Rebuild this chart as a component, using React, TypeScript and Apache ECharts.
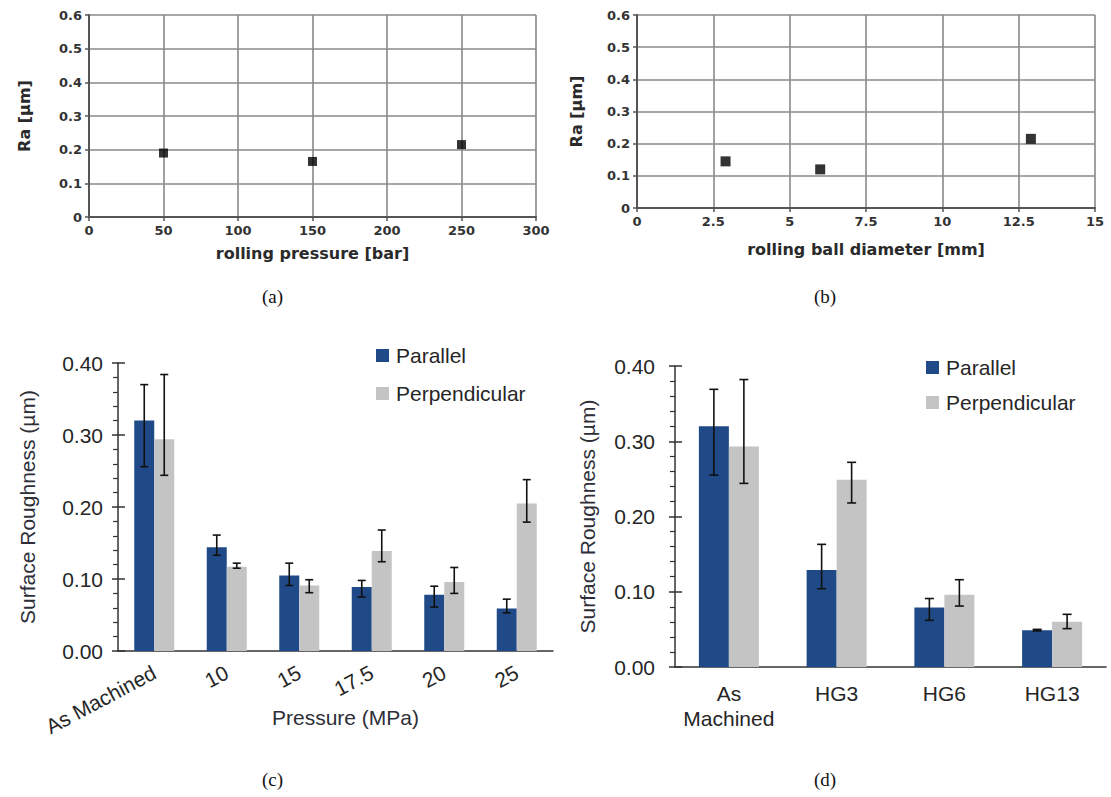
import React, { useEffect, useRef } from "react";
import * as echarts from "echarts";

// ---- panel (a): rolling pressure ----
const aPressure = [50, 150, 250];
const aRa = [0.19, 0.165, 0.215];
// ---- panel (b): rolling ball diameter ----
const bDiameter = [2.9, 6, 12.9];
const bRa = [0.145, 0.12, 0.215];
// ---- panel (c): pressure (MPa) ----
const cCategories = ["As Machined", "10", "15", "17.5", "20", "25"];
const cParallel = [0.32, 0.144, 0.105, 0.089, 0.078, 0.059];
const cParallelLow = [0.256, 0.133, 0.091, 0.075, 0.061, 0.053];
const cParallelHigh = [0.37, 0.161, 0.122, 0.098, 0.09, 0.072];
const cPerp = [0.294, 0.117, 0.091, 0.139, 0.096, 0.205];
const cPerpLow = [0.244, 0.115, 0.081, 0.124, 0.08, 0.179];
const cPerpHigh = [0.384, 0.122, 0.099, 0.168, 0.116, 0.238];
// ---- panel (d): ball size ----
const dCategories = ["As\nMachined", "HG3", "HG6", "HG13"];
const dParallel = [0.32, 0.129, 0.079, 0.049];
const dParallelLow = [0.255, 0.104, 0.062, 0.048];
const dParallelHigh = [0.369, 0.163, 0.091, 0.05];
const dPerp = [0.293, 0.249, 0.096, 0.06];
const dPerpLow = [0.244, 0.218, 0.081, 0.051];
const dPerpHigh = [0.382, 0.272, 0.116, 0.07];

const BLUE = "#1f4a87";
const GRAY = "#c4c4c4";
const SANS = "'Liberation Sans', Arial, Helvetica, sans-serif";
const BOLD_FONT = "'DejaVu Sans', sans-serif";

function errorSeries(xi: number, yi: number, low: number[], high: number[], offset: number, cap: number) {
  return {
    type: "custom",
    xAxisIndex: xi,
    yAxisIndex: yi,
    z: 10,
    silent: true,
    encode: { x: 0, y: [1, 2] },
    data: low.map((l, i) => [i, l, high[i]]),
    renderItem: (params: any, api: any) => {
      const idx = api.value(0);
      const lo = api.coord([idx, api.value(1)]);
      const hi = api.coord([idx, api.value(2)]);
      const x = lo[0] + offset;
      const st = { stroke: "#111", lineWidth: 1.6 };
      return {
        type: "group",
        children: [
          { type: "line", shape: { x1: x, y1: lo[1], x2: x, y2: hi[1] }, style: st },
          { type: "line", shape: { x1: x - cap, y1: lo[1], x2: x + cap, y2: lo[1] }, style: st },
          { type: "line", shape: { x1: x - cap, y1: hi[1], x2: x + cap, y2: hi[1] }, style: st },
        ],
      };
    },
  };
}

const smallAxisLabel = { fontFamily: BOLD_FONT, fontWeight: "bold", fontSize: 13, color: "#333" };
const smallAxisName = { fontFamily: BOLD_FONT, fontWeight: "bold", fontSize: 16, color: "#2a2a2a" };
const gridLine = { show: true, lineStyle: { color: "#888", width: 1.6 } };
const darkLine = { lineStyle: { color: "#555", width: 2 } };

function scatterX(gi: number, max: number, interval: number, name: string, gap: number) {
  return {
    type: "value",
    gridIndex: gi,
    min: 0,
    max,
    interval,
    name,
    nameLocation: "middle",
    nameGap: gap,
    nameMoveOverlap: false,
    nameTextStyle: smallAxisName,
    axisLine: { show: true, onZero: false, ...darkLine },
    axisTick: { show: true, length: 4, lineStyle: { color: "#555", width: 1.5 } },
    axisLabel: { ...smallAxisLabel, margin: 7 },
    splitLine: gridLine,
  };
}
function scatterY(gi: number, gap: number) {
  return {
    type: "value",
    gridIndex: gi,
    min: 0,
    max: 0.6,
    interval: 0.1,
    name: "Ra [µm]",
    nameLocation: "middle",
    nameGap: gap,
    nameMoveOverlap: false,
    nameTextStyle: smallAxisName,
    axisLine: { show: true, ...darkLine },
    axisTick: { show: true, length: 4, lineStyle: { color: "#555", width: 1.5 } },
    axisLabel: { ...smallAxisLabel, margin: 7 },
    splitLine: gridLine,
  };
}

const bigLabel = { fontFamily: SANS, fontSize: 21, color: "#262626" };
const bigName = { fontFamily: SANS, fontSize: 21, color: "#2e2e38" };

function barY(gi: number, gap: number, labelMargin: number) {
  return {
    type: "value",
    gridIndex: gi,
    min: 0,
    max: 0.4,
    interval: 0.1,
    name: "Surface Roughness (µm)",
    nameLocation: "middle",
    nameGap: gap,
    nameMoveOverlap: false,
    nameTextStyle: bigName,
    axisLine: { show: true, lineStyle: { color: "#333", width: 1.5 } },
    axisTick: { show: true, length: 6, lineStyle: { color: "#333", width: 1.5 } },
    minorTick: { show: true, splitNumber: 5, length: 5, lineStyle: { color: "#333", width: 1.2 } },
    axisLabel: { ...bigLabel, margin: labelMargin, formatter: (v: number) => v.toFixed(2) },
    splitLine: { show: false },
  };
}
function barYInner(gi: number) {
  return {
    type: "value",
    gridIndex: gi,
    position: "left",
    offset: 0,
    min: 0,
    max: 0.4,
    interval: 0.1,
    axisLine: { show: false },
    axisTick: { show: true, inside: true, length: 7, lineStyle: { color: "#333", width: 1.5 } },
    axisLabel: { show: false },
    splitLine: { show: false },
  };
}

export default function App() {
  const ref = useRef<HTMLDivElement>(null);
  useEffect(() => {
    if (!ref.current) return;
    const chart = echarts.init(ref.current, undefined, { renderer: "svg" });
    const option: any = {
      animation: false,
      backgroundColor: "#ffffff",
      grid: [
        { left: 89, top: 15, width: 447, height: 202 },
        { left: 637, top: 15, width: 458, height: 193 },
        { left: 118, top: 363, width: 435, height: 288 },
        { left: 675, top: 366, width: 431, height: 301 },
      ],
      legend: [
        {
          left: 371,
          top: 340,
          orient: "vertical",
          icon: "rect",
          itemWidth: 13,
          itemHeight: 13,
          itemGap: 17,
          data: ["Parallel", "Perpendicular"],
          textStyle: { ...bigLabel, padding: [0, 0, 0, 2] },
          selectedMode: false,
        },
        {
          left: 921,
          top: 352,
          orient: "vertical",
          icon: "rect",
          itemWidth: 13,
          itemHeight: 13,
          itemGap: 14,
          data: ["Parallel", "Perpendicular"],
          textStyle: { ...bigLabel, padding: [0, 0, 0, 2] },
          selectedMode: false,
        },
      ],
      xAxis: [
        scatterX(0, 300, 50, "rolling pressure [bar]", 28),
        scatterX(1, 15, 2.5, "rolling ball diameter [mm]", 33),
        {
          type: "category",
          gridIndex: 2,
          data: cCategories,
          name: "Pressure (MPa)",
          nameLocation: "middle",
          nameGap: 56,
          nameMoveOverlap: false,
          nameTextStyle: { ...bigName, padding: [0, 0, 0, 20] },
          axisLine: { show: true, lineStyle: { color: "#333", width: 1.5 } },
          axisTick: { show: false },
          axisLabel: { ...bigLabel, rotate: 28, margin: 20, interval: 0 },
        },
        {
          type: "category",
          gridIndex: 3,
          data: dCategories,
          axisLine: { show: true, lineStyle: { color: "#333", width: 1.5 } },
          axisTick: { show: false },
          axisLabel: { ...bigLabel, margin: 14, interval: 0, lineHeight: 25 },
        },
      ],
      yAxis: [
        scatterY(0, 57),
        scatterY(1, 53),
        barY(2, 80, 15),
        barY(3, 77, 20),
        barYInner(2),
        barYInner(3),
      ],
      series: [
        {
          type: "scatter",
          xAxisIndex: 0,
          yAxisIndex: 0,
          symbol: "rect",
          symbolSize: 9,
          itemStyle: { color: "#000" },
          data: aPressure.map((x, i) => [x, aRa[i]]),
        },
        {
          type: "scatter",
          xAxisIndex: 1,
          yAxisIndex: 1,
          symbol: "rect",
          symbolSize: 10,
          itemStyle: { color: "#000" },
          data: bDiameter.map((x, i) => [x, bRa[i]]),
        },
        {
          type: "bar",
          name: "Parallel",
          xAxisIndex: 2,
          yAxisIndex: 2,
          barWidth: 20,
          barGap: "0%",
          itemStyle: { color: BLUE },
          data: cParallel,
        },
        {
          type: "bar",
          name: "Perpendicular",
          xAxisIndex: 2,
          yAxisIndex: 2,
          barWidth: 20,
          barGap: "0%",
          itemStyle: { color: GRAY },
          data: cPerp,
        },
        {
          type: "bar",
          name: "Parallel",
          xAxisIndex: 3,
          yAxisIndex: 3,
          barWidth: 30,
          barGap: "0%",
          itemStyle: { color: BLUE },
          data: dParallel,
        },
        {
          type: "bar",
          name: "Perpendicular",
          xAxisIndex: 3,
          yAxisIndex: 3,
          barWidth: 30,
          barGap: "0%",
          itemStyle: { color: GRAY },
          data: dPerp,
        },
        errorSeries(2, 2, cParallelLow, cParallelHigh, -10, 4),
        errorSeries(2, 2, cPerpLow, cPerpHigh, 10, 4),
        errorSeries(3, 3, dParallelLow, dParallelHigh, -15, 4.5),
        errorSeries(3, 3, dPerpLow, dPerpHigh, 15, 4.5),
      ],
      graphic: [
        { type: "text", left: 262, top: 287, style: { text: "(a)", fontFamily: "'Liberation Serif', serif", fontSize: 19, fill: "#111" } },
        { type: "text", left: 814, top: 287, style: { text: "(b)", fontFamily: "'Liberation Serif', serif", fontSize: 19, fill: "#111" } },
        { type: "text", left: 262, top: 770, style: { text: "(c)", fontFamily: "'Liberation Serif', serif", fontSize: 19, fill: "#111" } },
        { type: "text", left: 814, top: 770, style: { text: "(d)", fontFamily: "'Liberation Serif', serif", fontSize: 19, fill: "#111" } },
      ],
    };
    chart.setOption(option);
    return () => chart.dispose();
  }, []);
  return (
    <div
      ref={ref}
      style={{ position: "absolute", left: 0, top: 0, width: 1111, height: 797, background: "#fff" }}
    />
  );
}
